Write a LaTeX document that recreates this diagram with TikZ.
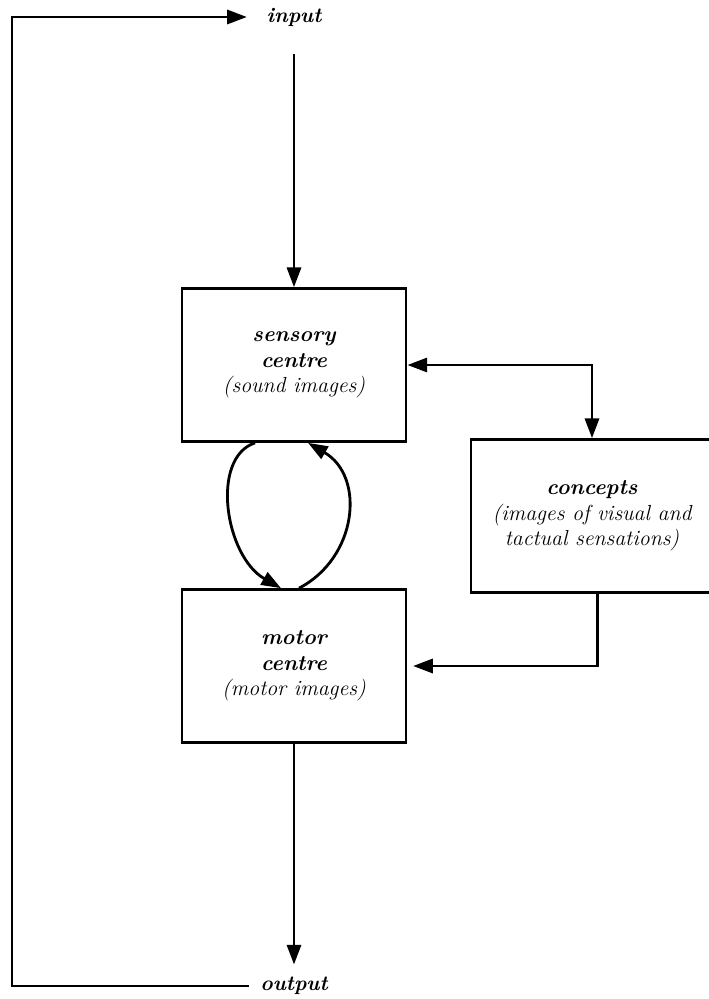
\documentclass[tikz,border=0pt]{standalone}
\usepackage{tikz}
\usetikzlibrary{arrows.meta,calc}

\begin{document}
\begin{tikzpicture}[x=0.025cm, y=-0.025cm, line width=2pt,
        >={Triangle[length=14pt,width=10pt]},
        centrebox/.style={draw, align=center, font=\fontsize{15.5}{18}\selectfont\itshape,
            minimum width=5.6cm, minimum height=3.82cm},
        endlabel/.style={font=\fontsize{15}{18}\selectfont\bfseries\itshape, inner sep=7pt}]
    \useasboundingbox (0,0) rectangle (709,999);
    \node (sens) [centrebox]                      at (294,365) {\textbf{sensory}\\\textbf{centre}\\(sound images)};
    \node (mot)  [centrebox]                      at (294,666) {\textbf{motor}\\\textbf{centre}\\(motor images)};
    \node (conc) [centrebox, minimum width=6.05cm] at (592,516) {\textbf{concepts}\\(images of visual and\\tactual sensations)};
    \node (in)   [endlabel]                       at (294,17)  {input};
    \node (out)  [endlabel]                       at (294,986) {output};
    \coordinate (tl) at (12,17);
    \coordinate (bl) at (12,986);
    \draw[->, shorten >=6pt] (out) -- (bl) -- (tl) -- (in);
    \draw[->, shorten <=12pt] (in) -- (sens);
    \draw[->, shorten >=1pt] (mot) -- (out);
    \draw[<->] (sens.east) -| (conc.north);
    \draw[->, shorten >=4pt] ([xshift=4pt]conc.south) |- (mot.east);
    \draw[->] ($(sens.south)+(-39,0)$) .. controls +(-45,15) and +(-56,-32) .. ($(mot.north)+(-13,0)$);
    \draw[->] ($(mot.north)+(5,0)$) .. controls +(58,-30) and +(58,34) .. ($(sens.south)+(14,0)$);
\end{tikzpicture}
\end{document}
